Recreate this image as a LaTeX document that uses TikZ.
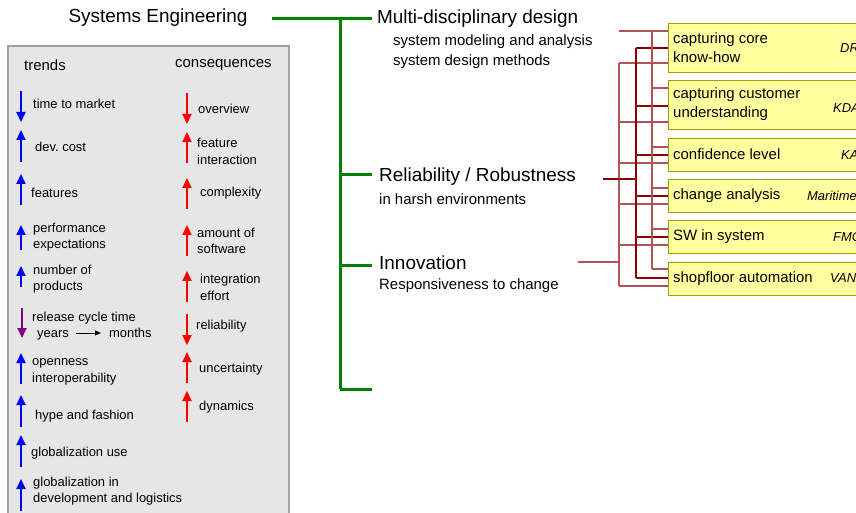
\documentclass[tikz,border=0pt]{standalone}
\usepackage{fontspec}
\setmainfont{Liberation Sans}
\frenchspacing
\usetikzlibrary{arrows.meta}
\definecolor{segreen}{RGB}{0,128,0}
\definecolor{panelfill}{RGB}{230,230,230}
\definecolor{panelline}{RGB}{160,160,160}
\definecolor{boxfill}{RGB}{255,255,160}
\definecolor{boxline}{RGB}{160,160,0}
\definecolor{treelight}{RGB}{178,82,82}
\definecolor{treedark}{RGB}{140,0,0}
\definecolor{relpurple}{RGB}{128,0,128}
\tikzset{
  big/.style={font=\fontsize{19}{22}\selectfont, inner sep=0pt},
  sub/.style={font=\fontsize{15}{20}\selectfont, inner sep=0pt, anchor=west, align=left},
  lbl/.style={font=\fontsize{13}{16.5}\selectfont, inner sep=0pt, anchor=west, align=left},
  itl/.style={font=\fontsize{13}{16}\selectfont\itshape, inner sep=0pt, anchor=west},
  gline/.style={draw=segreen, line width=3bp},
  trA/.style={draw=treelight, line width=2bp},
  trB/.style={draw=treedark, line width=1.5bp},
  trC/.style={draw=treelight, line width=2bp},
  ybox/.style={draw=boxline, fill=boxfill, line width=1.2bp, anchor=north west,
     minimum width=220bp, inner sep=0pt},
  btxt/.style={font=\fontsize{15}{19}\selectfont, inner sep=0pt, anchor=west, align=left},
  upar/.style={line width=2.2bp, -{Triangle[width=9bp,length=10bp]}},
  smallar/.style={line width=1bp, -{Triangle[width=5bp,length=6bp]}},
}
\begin{document}
\begin{tikzpicture}[x=1bp,y=-1bp]
\useasboundingbox (0,0) rectangle (856,513);
% panel
\draw[fill=panelfill, draw=panelline, line width=1.5bp] (8,46) rectangle (289,530);
% title and green tree
\node[big] (se) at (158,18) {Systems Engineering};
\node[big, anchor=west, inner xsep=5bp] (md) at (372,19) {Multi-disciplinary design};
\node[sub] (mdsub) at (393,52) {system modeling and analysis\\system design methods};
\node[big, anchor=west, inner xsep=7bp] (rel) at (372,177) {Reliability / Robustness};
\node[sub] (relsub) at (379,199) {in harsh environments};
\node[big, anchor=west, inner xsep=7bp] (inn) at (372,263) {Innovation};
\node[sub] (innsub) at (379,286) {Responsiveness to change};
\coordinate (g0) at (272,19);
\coordinate (g1) at (340,19);
\coordinate (g2) at (340,175);
\coordinate (g3) at (340,266);
\coordinate (g4) at (340,389);
\coordinate (g5) at (372,389);
\draw[gline] (g0) -- (g1);
\draw[gline] (g1) -- (g4);
\draw[gline] (g1) -- (md.west);
\draw[gline] (g2) -- (g2 -| rel.west);
\draw[gline] (g3) -- (g3 -| inn.west);
\draw[gline] (g4) -- (g5);
% yellow boxes
\node[ybox, minimum height=49bp] (b1) at (668,23) {};
\node[ybox, minimum height=49bp] (b2) at (668,80) {};
\node[ybox, minimum height=33bp] (b3) at (668,138) {};
\node[ybox, minimum height=33bp] (b4) at (668,179) {};
\node[ybox, minimum height=33bp] (b5) at (668,220) {};
\node[ybox, minimum height=33bp] (b6) at (668,262) {};
\node[btxt] (x1) at (673,47.5) {capturing core\\know-how};
\node[btxt] (x2) at (673,104.5) {capturing customer\\understanding};
\node[btxt] (x3) at (673,154.5) {confidence level};
\node[btxt] (x4) at (673,195.5) {change analysis};
\node[btxt] (x5) at (673,236.5) {SW in system};
\node[btxt] (x6) at (673,278.5) {shopfloor automation};
\node[itl] (l1) at (840,48) {DR};
\node[itl] (l2) at (833,108) {KDA};
\node[itl] (l3) at (841,155) {KA};
\node[itl] (l4) at (807,196) {Maritime};
\node[itl] (l5) at (833,237) {FMC};
\node[itl] (l6) at (830,278) {VAN};
% red trees
\coordinate (sA) at (619,31);
\coordinate (sB) at (603,179);
\coordinate (sC) at (578,262);
\coordinate (tA) at (652,31);
\coordinate (bA) at (652,269);
\coordinate (tB) at (636,48);
\coordinate (bB) at (636,278);
\coordinate (tC) at (619,63);
\coordinate (bC) at (619,286);
\draw[trC] (sC) -- (sC -| tC);
\draw[trC] (tC) -- (bC);
\foreach \y/\b in {63/b1,122/b2,163/b3,204/b4,245/b5,286/b6}{
  \coordinate (c\b) at (619,\y);
  \draw[trC] (c\b) -- (c\b -| \b.west);
}
\draw[trB] (sB) -- (sB -| tB);
\draw[trB] (tB) -- (bB);
\foreach \y/\b in {48/b1,106/b2,155/b3,196/b4,237/b5,278/b6}{
  \coordinate (d\b) at (636,\y);
  \draw[trB] (d\b) -- (d\b -| \b.west);
}
\draw[trA] (sA) -- (tA);
\draw[trA] (tA) -- (bA);
\foreach \y/\b in {31/b1,88/b2,147/b3,188/b4,229/b5,269/b6}{
  \coordinate (a\b) at (652,\y);
  \draw[trA] (a\b) -- (a\b -| \b.west);
}
% panel headings
\node[font=\fontsize{15}{18}\selectfont, inner sep=0pt, anchor=west] (trh) at (24,65) {trends};
\node[font=\fontsize{15}{18}\selectfont, inner sep=0pt, anchor=west] (coh) at (175,65) {consequences};
% trends
\node[lbl] (t1) at (33,104) {time to market};
\node[lbl] (t2) at (35,147) {dev. cost};
\node[lbl] (t3) at (31,193) {features};
\node[lbl] (t4) at (33,237) {performance\\expectations};
\node[lbl] (t5) at (33,279) {number of\\products};
\node[lbl] (t6) at (32,318) {release cycle time};
\node[lbl] (t6a) at (37,335.5) {years};
\node[lbl] (t6b) at (109,332.8) {months};
\node[lbl] (t7) at (32,372) {openness\\interoperability};
\node[lbl] (t8) at (35,416) {hype and fashion};
\node[lbl] (t9) at (31,453) {globalization use};
\node[lbl] (t10) at (33,491) {globalization in\\development and logistics};
\coordinate (ya) at (76,333);
\coordinate (yb) at (101,333);
\draw[smallar, black] (ya) -- (yb);
\draw[upar, blue] (21,91) -- (21,122);
\draw[upar, blue] (21,162) -- (21,130);
\draw[upar, blue] (21,205) -- (21,174);
\draw[upar, blue] (21,250) -- (21,225);
\draw[upar, blue] (21,287) -- (21,266);
\draw[upar, relpurple] (22,308) -- (22,338);
\draw[upar, blue] (21,384) -- (21,353);
\draw[upar, blue] (21,427) -- (21,395);
\draw[upar, blue] (21,467) -- (21,435);
\draw[upar, blue] (21,511) -- (21,479);
% consequences
\node[lbl] (c1) at (198,109) {overview};
\node[lbl] (c2) at (197,151.5) {feature\\interaction};
\node[lbl] (c3) at (200,193) {complexity};
\node[lbl] (c4) at (197,241) {amount of\\software};
\node[lbl] (c5) at (200,287.5) {integration\\effort};
\node[lbl] (c6) at (196,326) {reliability};
\node[lbl] (c7) at (199,369) {uncertainty};
\node[lbl] (c8) at (199,407) {dynamics};
\draw[upar, red] (187,93) -- (187,124);
\draw[upar, red] (187,163) -- (187,132);
\draw[upar, red] (187,209) -- (187,178);
\draw[upar, red] (187,256) -- (187,225);
\draw[upar, red] (187,302) -- (187,271);
\draw[upar, red] (187,314) -- (187,345);
\draw[upar, red] (187,383) -- (187,352);
\draw[upar, red] (187,422) -- (187,391);
\end{tikzpicture}
\end{document}
